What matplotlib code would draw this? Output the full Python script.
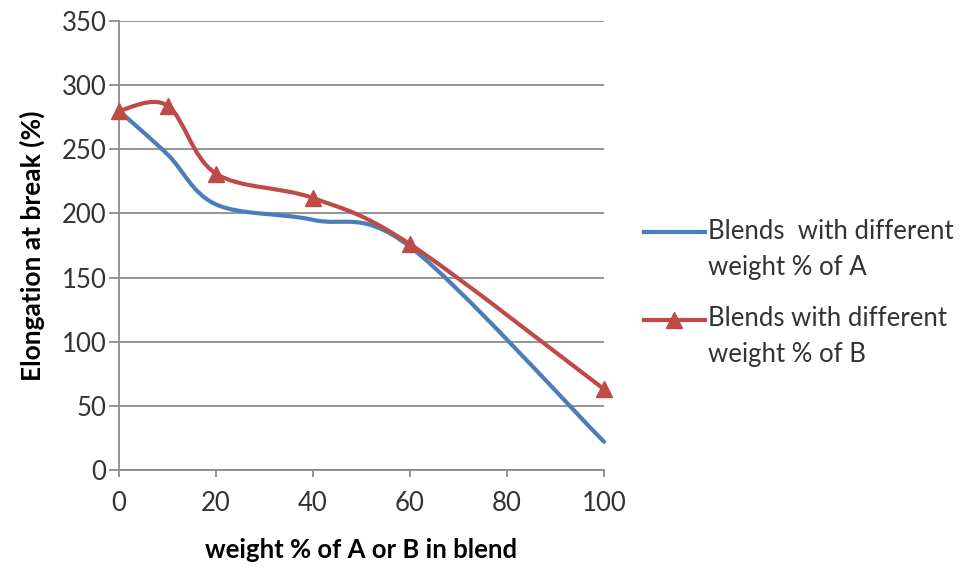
import matplotlib.pyplot as plt
import numpy as np
from matplotlib.path import Path
from matplotlib.patches import PathPatch
from matplotlib.lines import Line2D

weight = [0, 10, 20, 40, 60, 100]
blend_a = [280, 246, 207, 195, 174, 22]
blend_b = [280, 284, 231, 212, 176, 63]
label_a = "Blends  with different\nweight % of A"
label_b = "Blends with different\nweight % of B"
x_label = "weight % of A or B in blend"
y_label = "Elongation at break (%)"

BLUE = "#4A7EBB"
RED = "#BE4B48"
GRID = "#8C8C8C"
TEXT = "#333333"

plt.rcParams['font.family'] = ['Lato', 'DejaVu Sans']


def smooth_path(ax, x, y):
  # excel-like smoothing: bezier segments with catmull-rom control points,
  # built in display space so the tension looks the same as on screen
  pts = ax.transData.transform(np.column_stack([x, y]))
  n = len(pts)
  verts = [pts[0]]
  codes = [Path.MOVETO]
  for i in range(n - 1):
    p0 = pts[i - 1] if i > 0 else pts[i]
    p1 = pts[i]
    p2 = pts[i + 1]
    p3 = pts[i + 2] if i + 2 < n else pts[i + 1]
    c1 = p1 + (p2 - p0) / 6.0
    c2 = p2 - (p3 - p1) / 6.0
    verts += [c1, c2, p2]
    codes += [Path.CURVE4] * 3
  return Path(ax.transData.inverted().transform(np.array(verts)), codes)


fig = plt.figure(figsize=(9.71, 5.67), dpi=100)
ax = fig.add_axes([0.1226, 0.171, 0.4995, 0.792])
ax.set_xlim(0, 100)
ax.set_ylim(0, 350)
ax.set_xticks(range(0, 101, 20))
ax.set_yticks(range(0, 351, 50))
ax.yaxis.grid(True, color=GRID, linewidth=1.3)
ax.set_axisbelow(True)
for s in ['top', 'right']:
  ax.spines[s].set_visible(False)
for s in ['left', 'bottom']:
  ax.spines[s].set_color(GRID)
  ax.spines[s].set_linewidth(1.3)
ax.tick_params(axis='y', length=7, width=1.3, color=GRID, labelsize=18.5,
               labelcolor=TEXT, pad=2)
ax.tick_params(axis='x', length=5, width=1.3, color=GRID, labelsize=18.5,
               labelcolor=TEXT, pad=10)
ax.set_xlabel(x_label, fontsize=18.5, fontweight='bold', color='black', labelpad=16)
ax.set_ylabel(y_label, fontsize=19, fontweight='bold', color='black', labelpad=12)

ax.add_patch(PathPatch(smooth_path(ax, weight, blend_a), fill=False,
                       edgecolor=BLUE, linewidth=3, capstyle='round',
                       joinstyle='round', clip_on=False))
ax.add_patch(PathPatch(smooth_path(ax, weight, blend_b), fill=False,
                       edgecolor=RED, linewidth=3, capstyle='round',
                       joinstyle='round', clip_on=False))
ax.plot(weight, blend_b, linestyle='none', marker='^', markersize=12,
        color=RED, clip_on=False, zorder=5)

# legend drawn by hand so the key sits on the first text line
fig.add_artist(Line2D([0.663, 0.726], [0.591, 0.591], color=BLUE,
                      linewidth=3, transform=fig.transFigure))
fig.add_artist(Line2D([0.663, 0.726], [0.436, 0.436], color=RED,
                      linewidth=3, transform=fig.transFigure))
fig.add_artist(Line2D([0.6945], [0.436], color=RED, marker='^',
                      markersize=11, linestyle='none',
                      transform=fig.transFigure))
for label, y0 in [(label_a, 0.591), (label_b, 0.438)]:
  for k, line in enumerate(label.split('\n')):
    fig.text(0.729, y0 - k * 0.0625, line, fontsize=18.5, color=TEXT,
             va='center')

fig.savefig("out.png", dpi=100)
